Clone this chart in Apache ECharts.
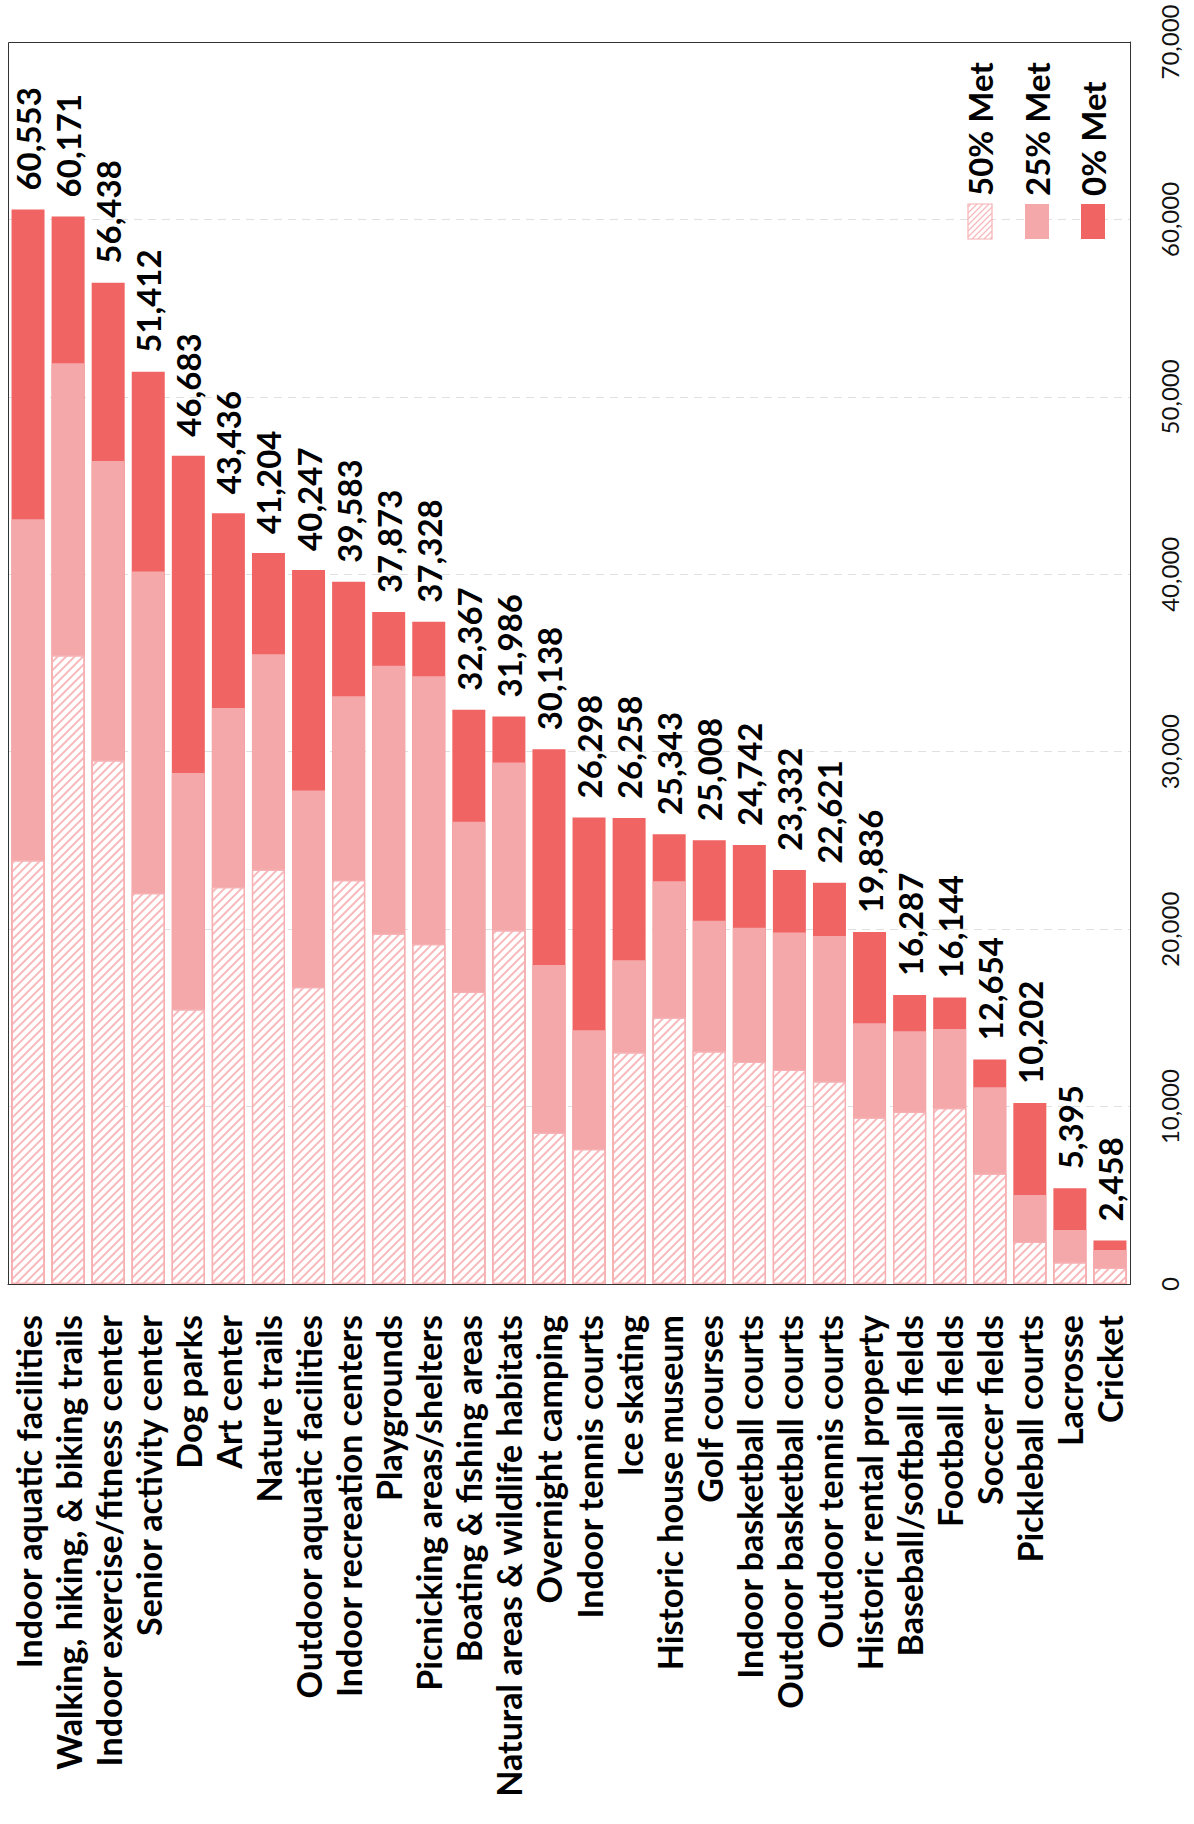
<!DOCTYPE html>
<html><head><meta charset="utf-8">
<script src="https://cdn.jsdelivr.net/npm/echarts@6/dist/echarts.min.js"></script>
<style>html,body{margin:0;padding:0;background:#fff}#c{width:1194px;height:1824px}</style>
</head><body><div id="c"></div>
<script>
const categories = ["Indoor aquatic facilities","Walking, hiking, & biking trails","Indoor exercise/fitness center","Senior activity center","Dog parks","Art center","Nature trails","Outdoor aquatic facilities","Indoor recreation centers","Playgrounds","Picnicking areas/shelters","Boating & fishing areas","Natural areas & wildlife habitats","Overnight camping","Indoor tennis courts","Ice skating","Historic house museum","Golf courses","Indoor basketball courts","Outdoor basketball courts","Outdoor tennis courts","Historic rental property","Baseball/softball fields","Football fields","Soccer fields","Pickleball courts","Lacrosse","Cricket"];
// cumulative heights
const met50 = [23880,35430,29520,22040,15480,22370,23360,16730,22770,19750,19160,16470,19940,8530,7610,13060,15020,13120,12530,12070,11420,9380,9710,9910,6230,2380,1220,920];
const met25 = [43100,51900,46380,40150,28800,32470,35490,27820,33130,34840,34250,26050,29390,17980,14300,18240,22700,20470,20080,19810,19620,14700,14240,14370,11090,5020,3040,1920];
const met0 = [60553,60171,56438,51412,46683,43436,41204,40247,39583,37873,37328,32367,31986,30138,26298,26258,25343,25008,24742,23332,22621,19836,16287,16144,12654,10202,5395,2458];
const legendNames = ["50% Met","25% Met","0% Met"];

const RED = '#F06563', PINK = '#F5A8AA', HATCH = '#F7B9BB', EDGE = '#F6B0B2';
const FONT = 'Lato, "Open Sans", sans-serif';
const chart = echarts.init(document.getElementById('c'), null, {renderer:'svg'});
const fmt = v => Number(v).toLocaleString('en-US');

const legendX = [980, 1037, 1093];
const SW = 24, SH = 35, SY = 204;
const legendGraphics = [];
legendNames.forEach((n, i) => {
  legendGraphics.push({type:'rect', shape:{x:legendX[i]-SW/2, y:SY, width:SW, height:SH}, z:100,
    style: i===0 ? {fill:'#fff', stroke:EDGE, lineWidth:1.2} : {fill: i===1?PINK:RED}});
  legendGraphics.push({type:'text', x:legendX[i], y:196, rotation:Math.PI/2, z:100,
    style:{text:n, fill:'#000', font:'bold 33px '+FONT, textAlign:'left', textVerticalAlign:'middle'}});
});
// hatch lines ("/") clipped to the first legend swatch
{
  const x0 = legendX[0]-SW/2;
  for (let c = 3; c < SW + SH; c += 6) {
    const a = Math.max(0, c - SH), b = Math.min(SW, c);
    legendGraphics.push({type:'line', z:101,
      shape:{x1:x0+a, y1:SY+c-a, x2:x0+b, y2:SY+c-b},
      style:{stroke:HATCH, lineWidth:1.2}});
  }
}
// solid plot frame on top
legendGraphics.push({type:'rect', z:200, silent:true, shape:{x:8.5, y:42.5, width:1122, height:1242},
  style:{fill:'none', stroke:'#333', lineWidth:1}});

const option = {
  backgroundColor:'#fff',
  animation:false,
  grid:{left:8, top:42, right:64, bottom:540, show:false},
  xAxis:{type:'category', data:categories,
    axisLine:{show:true, lineStyle:{color:'#333', width:1}}, axisTick:{show:false},
    axisLabel:{interval:0, rotate:90, margin:31, fontSize:34, fontWeight:'bold', fontFamily:FONT, color:'#000'}},
  yAxis:{type:'value', position:'right', min:0, max:70000, interval:10000,
    axisLine:{show:true, lineStyle:{color:'#333', width:1}}, axisTick:{show:false},
    splitLine:{show:true, showMinLine:false, showMaxLine:false, lineStyle:{color:'#E0E0E0', type:[8,6], width:1}},
    axisLabel:{rotate:90, margin:27, fontSize:24, fontFamily:FONT, color:'#111', formatter:fmt}},
  series:[
    {name:'0% Met', type:'bar', data:met0, barWidth:33, barGap:'-100%', itemStyle:{color:RED},
      label:{show:true, position:'top', rotate:90, distance:19, align:'left', verticalAlign:'middle',
        fontSize:33, fontWeight:'bold', fontFamily:FONT, color:'#000', formatter:p=>fmt(p.value)}},
    {name:'25% Met', type:'bar', data:met25, barWidth:33, barGap:'-100%', itemStyle:{color:PINK}},
    {name:'50% Met', type:'bar', data:met50, barWidth:33, barGap:'-100%',
      itemStyle:{color:'#fff', borderColor:EDGE, borderWidth:1.2,
        decal:{symbol:'rect', symbolSize:1, dashArrayX:[1,0], dashArrayY:[1.3,3.7], rotation:-Math.PI/4, color:HATCH}}}
  ],
  graphic:legendGraphics
};
chart.setOption(option);
</script></body></html>
